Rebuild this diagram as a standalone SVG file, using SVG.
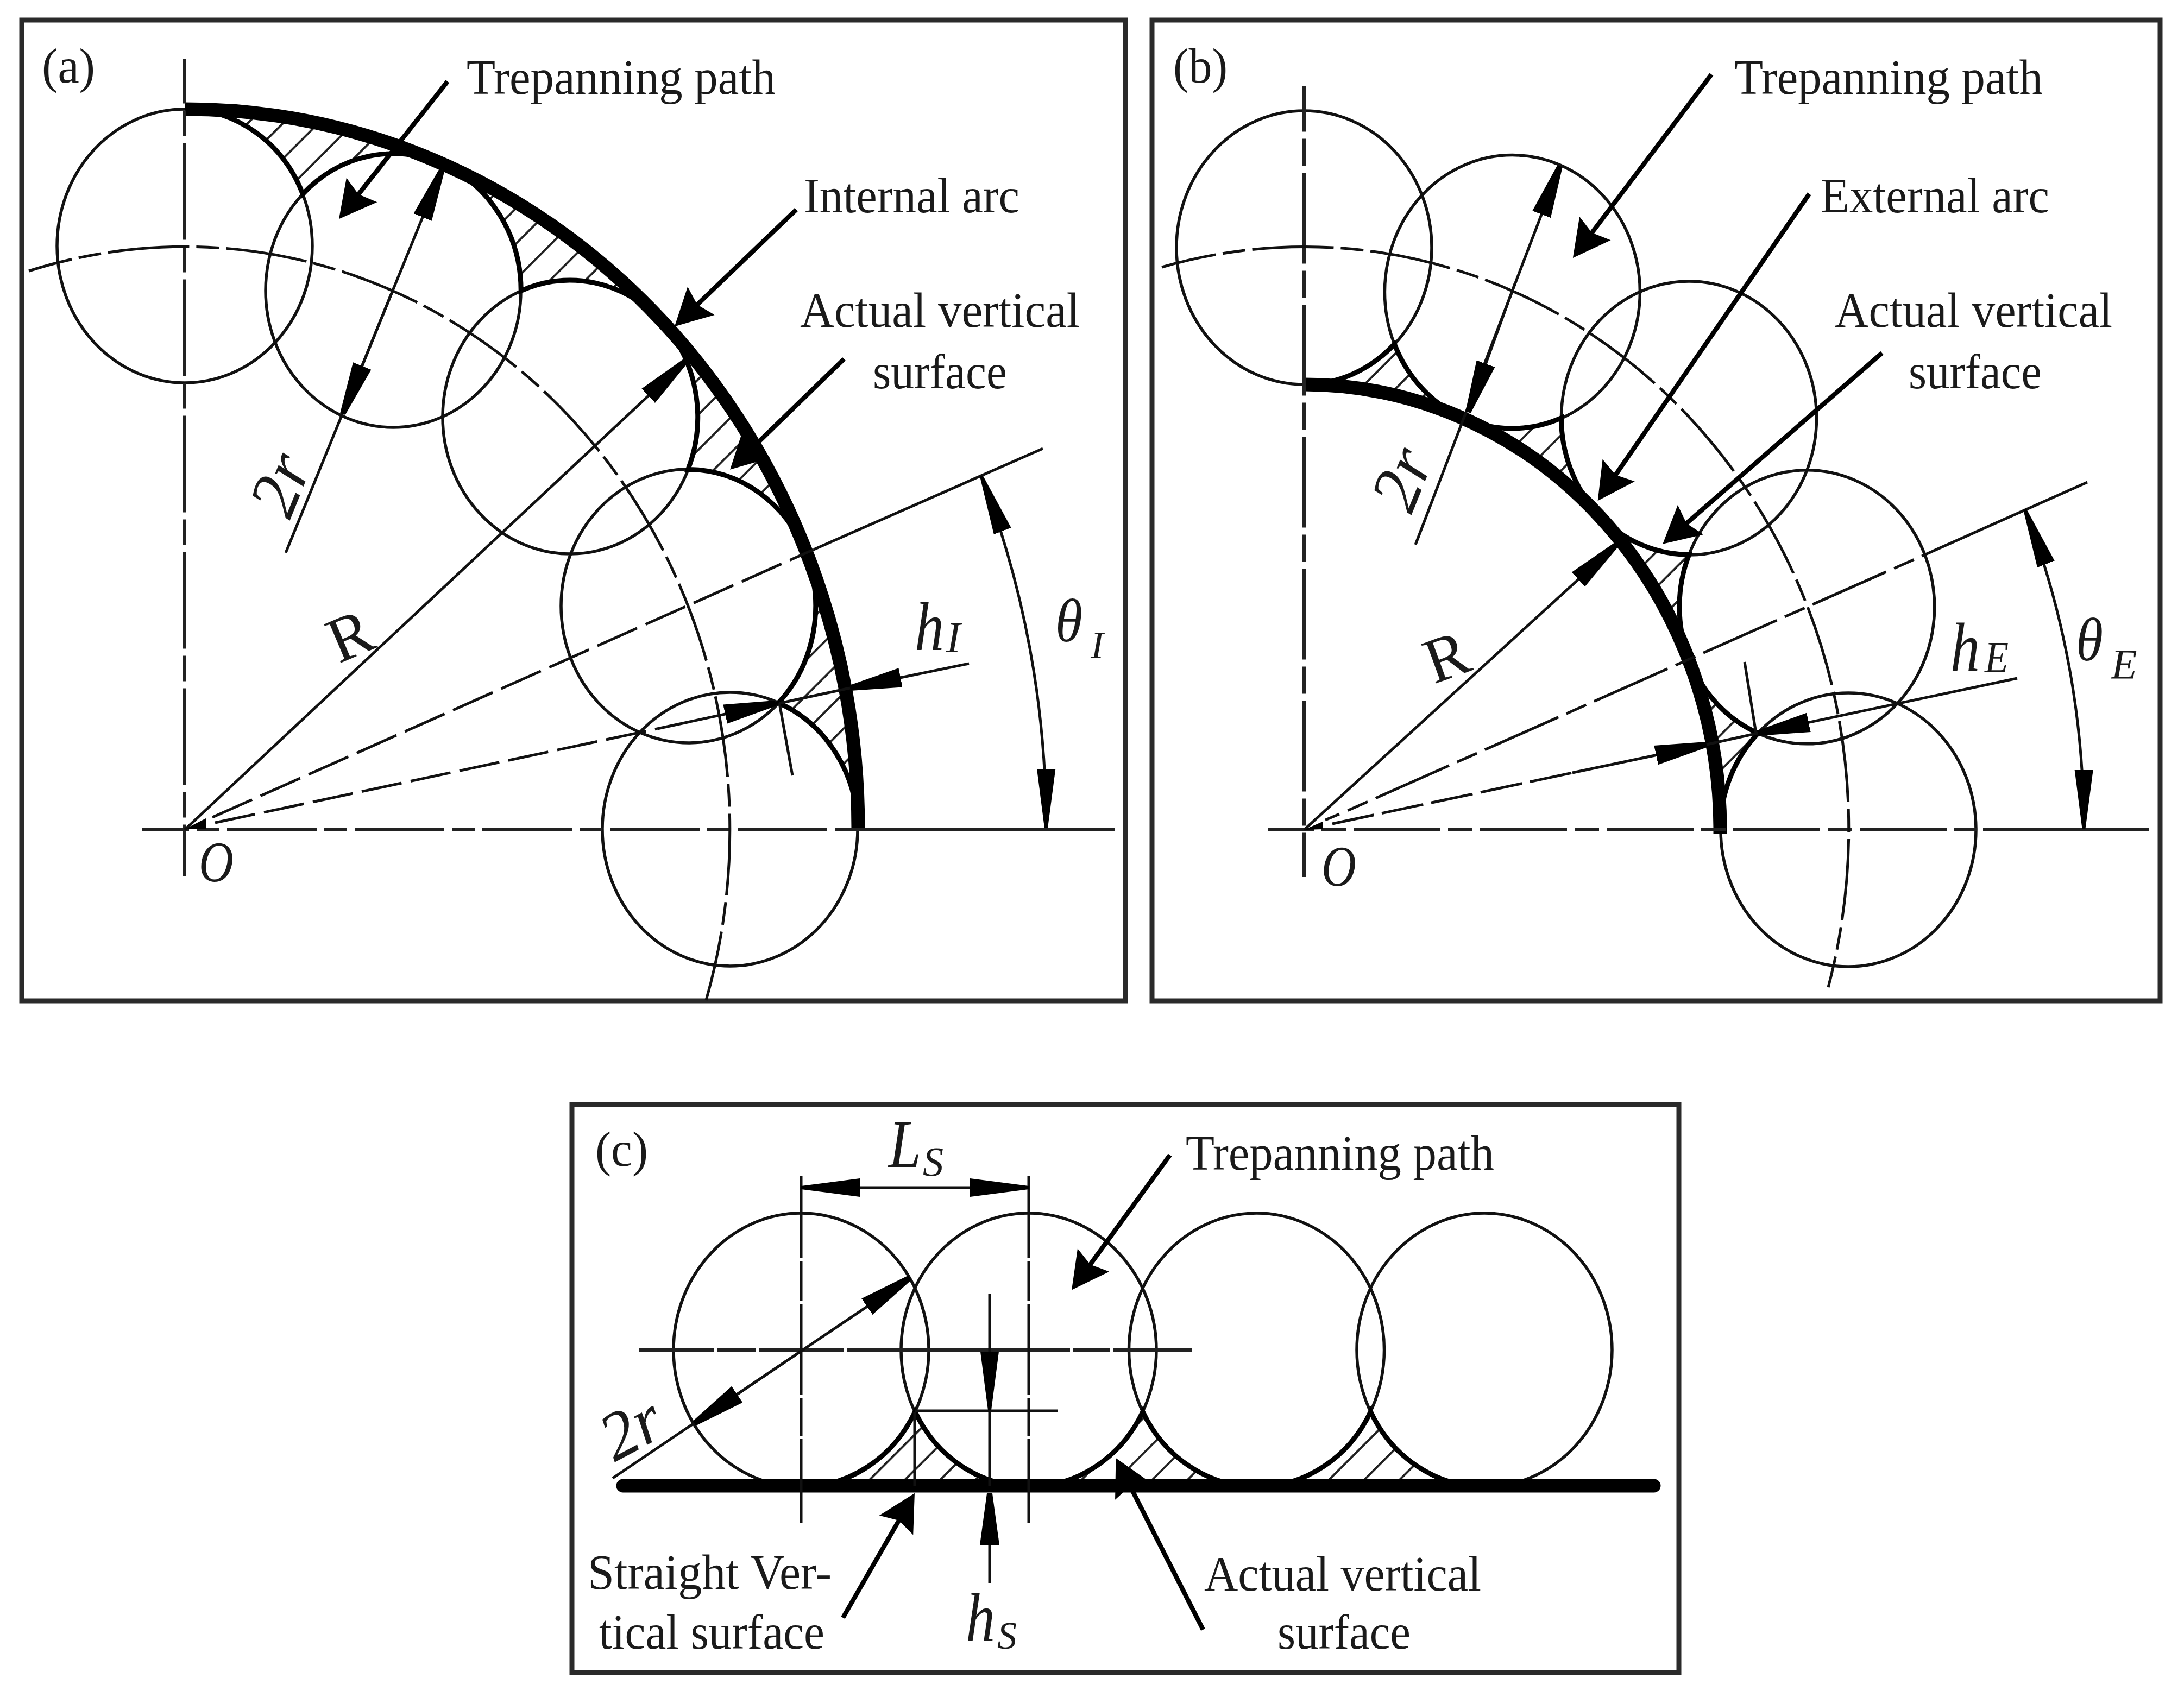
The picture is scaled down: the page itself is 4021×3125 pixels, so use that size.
<svg xmlns="http://www.w3.org/2000/svg" width="4021" height="3125" viewBox="0 0 4021 3125">
<style>
.frame{fill:#fff;stroke:#2a2a2a;stroke-width:9}
.c{fill:none;stroke:#111;stroke-width:5.5}
.l{fill:none;stroke:#111;stroke-width:5}
.cl{fill:none;stroke:#222;stroke-width:6}
.lead{fill:none;stroke:#000;stroke-width:8.5}
.thick{fill:none;stroke:#000;stroke-width:25}
.cusp{fill:none;stroke:#000;stroke-width:9}
.hatch{fill:url(#hatch);stroke:none}
.t{font-family:"Liberation Serif","Times New Roman",serif;font-size:92px;fill:#1a1a1a}
.i{font-family:"Liberation Serif","Times New Roman",serif;font-style:italic;fill:#1a1a1a}
.a{marker-end:url(#arrow)}
.b{marker-end:url(#arrowL)}
.ld{marker-end:url(#leader)}
</style>
<defs>
<pattern id="hatch" patternUnits="userSpaceOnUse" width="46" height="46" patternTransform="rotate(45)"><line x1="23" y1="0" x2="23" y2="46" stroke="#222" stroke-width="4"/></pattern>
<marker id="arrow" markerUnits="userSpaceOnUse" markerWidth="100" markerHeight="38" viewBox="0 0 100 38" refX="95" refY="19" orient="auto-start-reverse"><path d="M0,1 L95,14 L95,24 L0,37 Z" fill="#000"/></marker>
<marker id="arrowL" markerUnits="userSpaceOnUse" markerWidth="112" markerHeight="38" viewBox="0 0 112 38" refX="108" refY="19" orient="auto-start-reverse"><path d="M0,2 L108,16 L108,22 L0,36 Z" fill="#000"/></marker>
<marker id="leader" markerUnits="userSpaceOnUse" markerWidth="70" markerHeight="76" viewBox="0 0 70 76" refX="18" refY="38" orient="auto"><path d="M68,38 L0,2 L10,38 L0,74 Z" fill="#000"/></marker>
</defs>
<rect width="4021" height="3125" fill="#fff"/>

<g id="panel-a">
<rect class="frame" x="40" y="37" width="2032" height="1806"/>
<g id="a-hatch">
<path class="hatch" d="M340,201 A1239,1326 0 0 1 814.1,302.2 A235,252 0 0 0 557.4,357.4 A235,252 0 0 0 340,201Z"/>
<path class="hatch" d="M814.1,302.2 A1239,1326 0 0 1 1216.1,589.6 A235,252 0 0 0 959.2,535.5 A235,252 0 0 0 814.1,302.2Z"/>
<path class="hatch" d="M1216.1,589.6 A1239,1326 0 0 1 1484.7,1019.7 A235,252 0 0 0 1266.7,864.5 A235,252 0 0 0 1216.1,589.6Z"/>
<path class="hatch" d="M1484.7,1019.7 A1239,1326 0 0 1 1579,1527 A235,252 0 0 0 1433.1,1294.4 A235,252 0 0 0 1484.7,1019.7Z"/>
</g>
<g id="a-circles">
<ellipse class="c" cx="340" cy="453" rx="235" ry="252"/>
<ellipse class="c" cx="724" cy="535" rx="235" ry="252"/>
<ellipse class="c" cx="1050" cy="768" rx="235" ry="252"/>
<ellipse class="c" cx="1268" cy="1116" rx="235" ry="252"/>
<ellipse class="c" cx="1344" cy="1527" rx="235" ry="252"/>
</g>
<path class="cusp" d="M340,201 A235,252 0 0 1 557.4,357.4 A235,252 0 0 1 959.2,535.5 A235,252 0 0 1 1266.7,864.5 A235,252 0 0 1 1433.1,1294.4 A235,252 0 0 1 1579,1527"/>
<path class="thick" d="M340,201 A1239,1326 0 0 1 1580,1530"/>
<g id="a-connectors">
<line class="cl" x1="340" y1="108" x2="340" y2="1613" stroke-dasharray="178 13 47 13" stroke-dashoffset="95.5"/>
<line class="cl" x1="262" y1="1527" x2="1570" y2="1527" stroke-dasharray="165 14 42 14" stroke-dashoffset="79"/>
<line class="cl" x1="1570" y1="1527" x2="2052" y2="1527"/>
<path class="l" d="M53,499 A1004,1074 0 0 1 1300,1842" stroke-dasharray="150 13 42 13" stroke-dashoffset="68"/>
<polygon points="340,1527 379,1507 379,1527" fill="#000"/>
<line class="l a" x1="340" y1="1528" x2="1263" y2="664"/>
<line class="l" x1="391" y1="1505" x2="1498" y2="1012" stroke-dasharray="80 17"/>
<line class="l" x1="1498" y1="1012" x2="1920" y2="826"/>
<line class="l" x1="396" y1="1515" x2="1210" y2="1342" stroke-dasharray="75 17"/>
<line class="l a" x1="1210" y1="1342" x2="1428" y2="1295"/>
<line class="l a" x1="1784" y1="1222" x2="1565" y2="1267"/>
<line class="l" x1="1565" y1="1267" x2="1435" y2="1295"/>
<line class="l" x1="1435" y1="1295" x2="1459" y2="1428"/>
<line class="l a" x1="526" y1="1018" x2="814" y2="312"/>
<line class="l a" x1="721" y1="540" x2="631" y2="762"/>
<path class="l" d="M1807,877 A1586,1697 0 0 1 1926,1525" marker-start="url(#arrowL)" marker-end="url(#arrowL)"/>
<line class="lead ld" x1="824" y1="150" x2="655" y2="364"/>
<line class="lead ld" x1="1466" y1="386" x2="1278" y2="566.5"/>
<line class="lead ld" x1="1554" y1="661" x2="1380" y2="830"/>
</g>
<g id="a-labels">
<text class="t" x="77" y="152" textLength="98" lengthAdjust="spacingAndGlyphs">(a)</text>
<text class="t" x="859" y="173" textLength="569" lengthAdjust="spacingAndGlyphs">Trepanning path</text>
<text class="t" x="1480" y="391" textLength="397" lengthAdjust="spacingAndGlyphs">Internal arc</text>
<text class="t" x="1473" y="602" textLength="515" lengthAdjust="spacingAndGlyphs">Actual vertical</text>
<text class="t" x="1607" y="715" textLength="247" lengthAdjust="spacingAndGlyphs">surface</text>
<text class="i" font-size="126" x="1684" y="1197" textLength="54" lengthAdjust="spacingAndGlyphs">h</text>
<text class="i" font-size="80" x="1742" y="1201">I</text>
<text class="i" font-size="112" x="1943" y="1181" textLength="50" lengthAdjust="spacingAndGlyphs">θ</text>
<text class="i" font-size="72" x="2008" y="1212">I</text>
<text class="i" font-size="105" x="366" y="1623" textLength="64" lengthAdjust="spacingAndGlyphs">O</text>
<text class="t" style="font-size:118px" text-anchor="middle" transform="translate(644,1170) rotate(-23)" y="40">R</text>
<text class="i" font-size="125" text-anchor="middle" transform="translate(519,893) rotate(-68)" y="38">2r</text>
</g>
</g>

<g id="panel-b">
<rect class="frame" x="2121" y="37" width="1856" height="1806"/>
<g id="b-hatch">
<path class="hatch" d="M2401,708 A766,820 0 0 1 2694.1,770.8 A235,252 0 0 1 2567.3,633.6 A235,252 0 0 1 2401,708Z"/>
<path class="hatch" d="M2694.1,770.8 A766,820 0 0 1 2942.6,948.5 A235,252 0 0 1 2874.5,769.7 A235,252 0 0 1 2694.1,770.8Z"/>
<path class="hatch" d="M2942.6,948.5 A766,820 0 0 1 3108.7,1214.4 A235,252 0 0 1 3109.7,1021.3 A235,252 0 0 1 2942.6,948.5Z"/>
<path class="hatch" d="M3108.7,1214.4 A766,820 0 0 1 3167,1528 A235,252 0 0 1 3236.9,1350.1 A235,252 0 0 1 3108.7,1214.4Z"/>
</g>
<g id="b-circles">
<ellipse class="c" cx="2401" cy="456" rx="235" ry="252"/>
<ellipse class="c" cx="2784.4" cy="537.6" rx="235" ry="252"/>
<ellipse class="c" cx="3109.5" cy="770" rx="235" ry="252"/>
<ellipse class="c" cx="3326.7" cy="1117.8" rx="235" ry="252"/>
<ellipse class="c" cx="3403" cy="1528" rx="235" ry="252"/>
</g>
<path class="cusp" d="M2401,708 A235,252 0 0 0 2567.3,633.6 A235,252 0 0 0 2874.5,769.7 A235,252 0 0 0 3109.7,1021.3 A235,252 0 0 0 3236.9,1350.1 A235,252 0 0 0 3167,1528"/>
<path class="thick" d="M2401,708 A766,820 0 0 1 3167,1535"/>
<g id="b-connectors">
<line class="cl" x1="2401" y1="159" x2="2401" y2="1615" stroke-dasharray="167 13 50 13" stroke-dashoffset="83.5"/>
<line class="cl" x1="2335" y1="1528" x2="3640" y2="1528" stroke-dasharray="160 14 45 14" stroke-dashoffset="76"/>
<line class="cl" x1="3651" y1="1528" x2="3956" y2="1528"/>
<path class="l" d="M2139,492 A1002,1072 0 0 1 3366,1818" stroke-dasharray="150 13 42 13" stroke-dashoffset="48"/>
<polygon points="2401,1528 2435,1513 2435,1527" fill="#000"/>
<line class="l a" x1="2401" y1="1528" x2="2976" y2="1003"/>
<line class="l" x1="2440" y1="1510" x2="2466" y2="1499"/>
<line class="l" x1="2481.5" y1="1492.5" x2="3545" y2="1021" stroke-dasharray="40 16 148 16"/>
<line class="l" x1="3545" y1="1021" x2="3843" y2="888"/>
<line class="l" x1="2453" y1="1517" x2="2895" y2="1423" stroke-dasharray="78 15"/>
<line class="l a" x1="2895" y1="1423" x2="3142" y2="1371"/>
<line class="l" x1="3142" y1="1371" x2="3237" y2="1350"/>
<line class="l a" x1="3714" y1="1249" x2="3237" y2="1350"/>
<line class="l" x1="3212" y1="1219" x2="3233" y2="1350"/>
<line class="l a" x1="2606" y1="1003" x2="2872" y2="306"/>
<line class="l a" x1="2790" y1="520" x2="2703" y2="759"/>
<path class="l" d="M3728,938 A1435.5,1536 0 0 1 3836.5,1526" marker-start="url(#arrowL)" marker-end="url(#arrowL)"/>
<line class="lead ld" x1="3151" y1="137" x2="2926" y2="435"/>
<line class="lead ld" x1="3331" y1="357" x2="2970" y2="881"/>
<line class="lead ld" x1="3465" y1="650" x2="3099" y2="969"/>
</g>
<g id="b-labels">
<text class="t" x="2160" y="152" textLength="100" lengthAdjust="spacingAndGlyphs">(b)</text>
<text class="t" x="3193" y="173" textLength="568" lengthAdjust="spacingAndGlyphs">Trepanning path</text>
<text class="t" x="3352" y="391" textLength="421" lengthAdjust="spacingAndGlyphs">External arc</text>
<text class="t" x="3378" y="602" textLength="511" lengthAdjust="spacingAndGlyphs">Actual vertical</text>
<text class="t" x="3514" y="715" textLength="245" lengthAdjust="spacingAndGlyphs">surface</text>
<text class="i" font-size="126" x="3591" y="1235" textLength="54" lengthAdjust="spacingAndGlyphs">h</text>
<text class="i" font-size="82" x="3654" y="1238" textLength="44" lengthAdjust="spacingAndGlyphs">E</text>
<text class="i" font-size="112" x="3822" y="1216" textLength="50" lengthAdjust="spacingAndGlyphs">θ</text>
<text class="i" font-size="78" x="3887" y="1249">E</text>
<text class="i" font-size="105" x="2433" y="1631" textLength="64" lengthAdjust="spacingAndGlyphs">O</text>
<text class="t" style="font-size:118px" text-anchor="middle" transform="translate(2663,1209) rotate(-20)" y="40">R</text>
<text class="i" font-size="125" text-anchor="middle" transform="translate(2584,883) rotate(-68)" y="38">2r</text>
</g>
</g>

<g id="panel-c">
<rect class="frame" x="1053" y="2034" width="2038" height="1046"/>
<g id="c-hatch">
<path class="hatch" d="M1475,2736 L1894,2736 A235,252 0 0 1 1684.75,2599.6 A235,252 0 0 1 1475,2738Z"/>
<path class="hatch" d="M1894,2736 L2313.5,2736 A235,252 0 0 1 2104,2599.6 A235,252 0 0 1 1894,2738Z"/>
<path class="hatch" d="M2313.5,2736 L2733,2736 A235,252 0 0 1 2523.5,2599.6 A235,252 0 0 1 2313.5,2738Z"/>
</g>
<g id="c-circles">
<ellipse class="c" cx="1475" cy="2486" rx="235" ry="252"/>
<ellipse class="c" cx="1894" cy="2486" rx="235" ry="252"/>
<ellipse class="c" cx="2313.5" cy="2486" rx="235" ry="252"/>
<ellipse class="c" cx="2733" cy="2486" rx="235" ry="252"/>
</g>
<path class="cusp" d="M1475,2738 A235,252 0 0 0 1684.75,2599.6 A235,252 0 0 0 2104,2599.6 A235,252 0 0 0 2523.5,2599.6 A235,252 0 0 0 2733,2738"/>
<line x1="1147" y1="2736" x2="3045" y2="2736" stroke="#000" stroke-width="25" stroke-linecap="round"/>
<g id="c-connectors">
<line class="cl" x1="1177" y1="2486" x2="2194" y2="2486" stroke-dasharray="137 6 71 6 156 6 411 6 68 6 144"/>
<line class="l" x1="1475" y1="2166" x2="1475" y2="2805" stroke-dasharray="151 6 73 6 166 6 70 6 155"/>
<line class="l" x1="1894" y1="2166" x2="1894" y2="2805" stroke-dasharray="151 6 73 6 166 6 70 6 155"/>
<line class="l" x1="1684" y1="2598" x2="1948" y2="2598"/>
<line class="l" x1="1684" y1="2600" x2="1684" y2="2736"/>
<line class="l b" x1="1822" y1="2382" x2="1822" y2="2597"/>
<line class="l" x1="1822" y1="2597" x2="1822" y2="2736"/>
<line class="l a" x1="1822" y1="2915" x2="1822" y2="2750"/>
<line class="l" x1="1475" y1="2187" x2="1894" y2="2187" marker-start="url(#arrowL)" marker-end="url(#arrowL)"/>
<line class="l a" x1="1128" y1="2722" x2="1675" y2="2353"/>
<line class="l a" x1="1475" y1="2488" x2="1278.5" y2="2621"/>
<line class="lead ld" x1="2154" y1="2127" x2="2002.5" y2="2335"/>
<line class="lead ld" x1="1552" y1="2979" x2="1659" y2="2793"/>
<line class="lead ld" x1="2215" y1="3001" x2="2077" y2="2729.5"/>
</g>
<g id="c-labels">
<text class="t" x="1096" y="2147" textLength="97" lengthAdjust="spacingAndGlyphs">(c)</text>
<text class="i" font-size="124" x="1636" y="2149" textLength="60" lengthAdjust="spacingAndGlyphs">L</text>
<text class="i" font-size="76" x="1699" y="2165">S</text>
<text class="t" x="2183" y="2154" textLength="568" lengthAdjust="spacingAndGlyphs">Trepanning path</text>
<text class="t" x="1082" y="2926" textLength="449" lengthAdjust="spacingAndGlyphs">Straight Ver-</text>
<text class="t" x="1103" y="3036" textLength="415" lengthAdjust="spacingAndGlyphs">tical surface</text>
<text class="i" font-size="126" x="1778" y="3022" textLength="54" lengthAdjust="spacingAndGlyphs">h</text>
<text class="i" font-size="72" x="1836" y="3036">S</text>
<text class="t" x="2217" y="2929" textLength="510" lengthAdjust="spacingAndGlyphs">Actual vertical</text>
<text class="t" x="2352" y="3036" textLength="245" lengthAdjust="spacingAndGlyphs">surface</text>
<text class="i" font-size="125" text-anchor="middle" transform="translate(1163,2633) rotate(-28)" y="38">2r</text>
</g>
</g>
</svg>
